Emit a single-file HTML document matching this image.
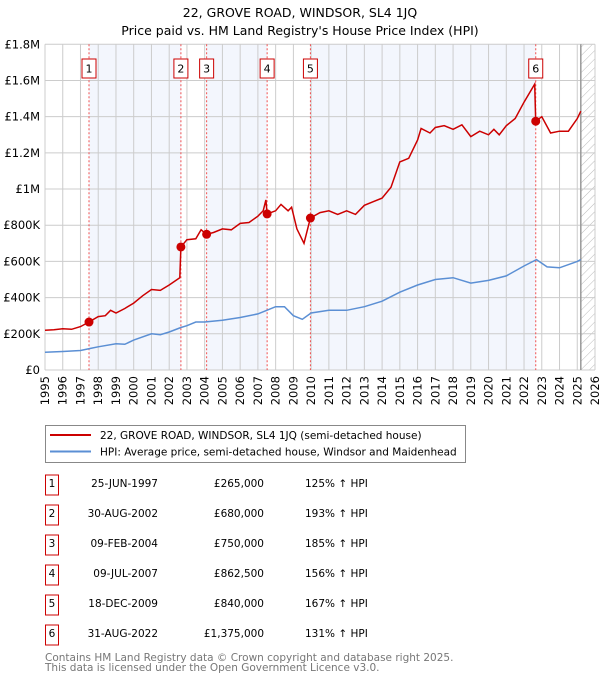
<!DOCTYPE html>
<html><head><meta charset="utf-8"><style>
body{margin:0;background:#fff;width:600px;height:680px;overflow:hidden}
svg{font-family:"DejaVu Sans","Liberation Sans",sans-serif}
</style></head><body>
<svg id="c" width="600" height="680">
<text x="300" y="17" text-anchor="middle" font-size="12.5">22, GROVE ROAD, WINDSOR, SL4 1JQ</text>
<text x="300" y="35" text-anchor="middle" font-size="12.5">Price paid vs. HM Land Registry's House Price Index (HPI)</text>
</svg>
<script>
const saleDates=[1997.48,2002.66,2004.11,2007.52,2009.96,2022.66];
const salePrices=[265000,680000,750000,862500,840000,1375000];
const saleLabels=["1","2","3","4","5","6"];
const saleDateText=["25-JUN-1997","30-AUG-2002","09-FEB-2004","09-JUL-2007","18-DEC-2009","31-AUG-2022"];
const salePriceText=["£265,000","£680,000","£750,000","£862,500","£840,000","£1,375,000"];
const saleHpiText=["125% ↑ HPI","193% ↑ HPI","185% ↑ HPI","156% ↑ HPI","167% ↑ HPI","131% ↑ HPI"];
const redT=[1995,1995.5,1996,1996.5,1997,1997.48,1998,1998.4,1998.7,1999,1999.5,2000,2000.5,2001,2001.5,2002,2002.6,2002.66,2003,2003.5,2003.8,2004.11,2004.5,2005,2005.5,2006,2006.5,2007,2007.3,2007.45,2007.52,2008,2008.3,2008.7,2008.9,2009.2,2009.6,2009.96,2010.5,2011,2011.5,2012,2012.5,2013,2013.5,2014,2014.5,2015,2015.5,2016,2016.2,2016.7,2017,2017.5,2018,2018.5,2019,2019.5,2020,2020.3,2020.6,2021,2021.5,2022,2022.6,2022.66,2023,2023.5,2024,2024.5,2025,2025.2];
const redV=[220,222,228,225,240,265,295,300,330,315,340,370,410,445,440,470,510,680,720,725,775,750,760,780,775,810,815,850,880,940,862,880,915,880,900,780,700,840,870,880,860,880,860,910,930,950,1010,1150,1170,1271,1335,1310,1340,1350,1330,1355,1290,1320,1300,1330,1300,1350,1390,1480,1580,1375,1400,1310,1320,1320,1390,1430];
const blueT=[1995,1996,1997,1997.5,1998,1999,1999.5,2000,2001,2001.5,2002,2002.66,2003,2003.5,2004,2005,2006,2007,2007.5,2008,2008.5,2009,2009.5,2010,2011,2012,2013,2014,2015,2016,2017,2018,2019,2020,2021,2022,2022.7,2023.3,2024,2025,2025.2];
const blueV=[98,102,108,118,128,145,142,165,200,195,210,235,245,265,265,275,290,310,330,350,350,300,280,315,330,330,350,380,430,470,500,510,480,495,520,575,610,570,565,600,610];
const yTicks=[0,200000,400000,600000,800000,1000000,1200000,1400000,1600000,1800000];
const yTickLabels=["£0","£200K","£400K","£600K","£800K","£1M","£1.2M","£1.4M","£1.6M","£1.8M"];
const xYears=[];for(let y=1995;y<=2026;y++)xYears.push(y);

const X0=45,X1=595,Y0=370,Y1=44.3;
const xs=t=>X0+(t-1995)/(2026-1995)*(X1-X0);
const ys=v=>Y0-v/1800000*(Y0-Y1);
const svg=document.getElementById('c');const NS='http://www.w3.org/2000/svg';
function mk(tag,attrs,parent){const e=document.createElementNS(NS,tag);for(const k in attrs)e.setAttribute(k,attrs[k]);(parent||svg).appendChild(e);return e;}
// shading
const shadePairs=[[0,1],[2,3],[4,5]];
shadePairs.forEach(p=>{const r=mk('rect',{x:xs(saleDates[p[0]]),y:Y1,width:xs(saleDates[p[1]])-xs(saleDates[p[0]]),height:Y0-Y1,fill:'#f3f6fd'});

});
// hatch
const defs=mk('defs',{});const pat=mk('pattern',{id:'h',width:6,height:6,patternUnits:'userSpaceOnUse',patternTransform:'rotate(45)'},defs);
mk('line',{x1:0,y1:0,x2:0,y2:6,stroke:'#bbb','stroke-width':1},pat);
const hx=xs(2025.2);
const hr=mk('rect',{x:hx,y:Y1,width:X1-hx,height:Y0-Y1,fill:'url(#h)'});


// grid
xYears.forEach(y=>{const l=mk('line',{x1:xs(y),x2:xs(y),y1:Y1,y2:Y0,stroke:'#ccc','stroke-width':1});


const t=mk('text',{x:0,y:0,'font-size':11.5,'text-anchor':'end',transform:`translate(${xs(y)+4},${Y0+6}) rotate(-90)`});t.textContent=y;

});
yTicks.forEach((v,i)=>{const l=mk('line',{x1:X0,x2:X1,y1:ys(v),y2:ys(v),stroke:'#ccc','stroke-width':1});


const t=mk('text',{x:40,y:ys(v)+4,'font-size':11.5,'text-anchor':'end'});t.textContent=yTickLabels[i];

});
const nl=mk('line',{x1:hx,x2:hx,y1:Y1,y2:Y0,stroke:'#999','stroke-width':1.5});


// sale vlines and labels
saleDates.forEach((d,i)=>{const l=mk('line',{x1:xs(d),x2:xs(d),y1:Y1,y2:Y0,stroke:'#f05050','stroke-width':1,'stroke-dasharray':'2,2'});


const r=mk('rect',{x:xs(d)-7,y:59,width:14,height:19,fill:'#fff',stroke:'#c00','stroke-width':1});


const t=mk('text',{x:xs(d),y:72.5,'font-size':11,'text-anchor':'middle'});t.textContent=saleLabels[i];

});
// lines
const bp=blueT.map((t,i)=>xs(t).toFixed(1)+','+ys(blueV[i]*1000).toFixed(1)).join(' ');
const bl=mk('polyline',{points:bp,fill:'none',stroke:'#5b8fd4','stroke-width':1.5});


const rp=redT.map((t,i)=>xs(t).toFixed(1)+','+ys(redV[i]*1000).toFixed(1)).join(' ');
const rl=mk('polyline',{points:rp,fill:'none',stroke:'#cc0000','stroke-width':1.5});


saleDates.forEach((d,i)=>{const c=mk('circle',{cx:xs(d),cy:ys(salePrices[i]),r:4.5,fill:'#cc0000'});

});
// legend
const lg=mk('g',{});


mk('rect',{x:45.5,y:425.5,width:420,height:37,fill:'#fff',stroke:'#888'},lg);
mk('line',{x1:50,x2:91,y1:435,y2:435,stroke:'#cc0000','stroke-width':2},lg);
mk('line',{x1:50,x2:91,y1:451.5,y2:451.5,stroke:'#5b8fd4','stroke-width':2},lg);
const lt1=mk('text',{x:100,y:439,'font-size':10.5},lg);lt1.textContent='22, GROVE ROAD, WINDSOR, SL4 1JQ (semi-detached house)';


const lt2=mk('text',{x:100,y:455.5,'font-size':10.5},lg);lt2.textContent='HPI: Average price, semi-detached house, Windsor and Maidenhead';


// table
saleLabels.forEach((s,i)=>{const cy=483+i*30;
const r=mk('rect',{x:45.5,y:cy-8,width:13,height:20,fill:'#fff',stroke:'#c00'});


const n=mk('text',{x:52,y:cy+4,'font-size':10.5,'text-anchor':'middle'});n.textContent=s;


const d=mk('text',{x:158,y:cy+4,'font-size':10.5,'text-anchor':'end'});d.textContent=saleDateText[i];


const p=mk('text',{x:264,y:cy+4,'font-size':10.5,'text-anchor':'end'});p.textContent=salePriceText[i];


const h=mk('text',{x:305,y:cy+4,'font-size':10.5});h.textContent=saleHpiText[i];

});
const f1=mk('text',{x:45,y:661,'font-size':10.5,fill:'#777'});f1.textContent='Contains HM Land Registry data © Crown copyright and database right 2025.';


const f2=mk('text',{x:45,y:671,'font-size':10.5,fill:'#777'});f2.textContent='This data is licensed under the Open Government Licence v3.0.';


</script>
</body></html>
